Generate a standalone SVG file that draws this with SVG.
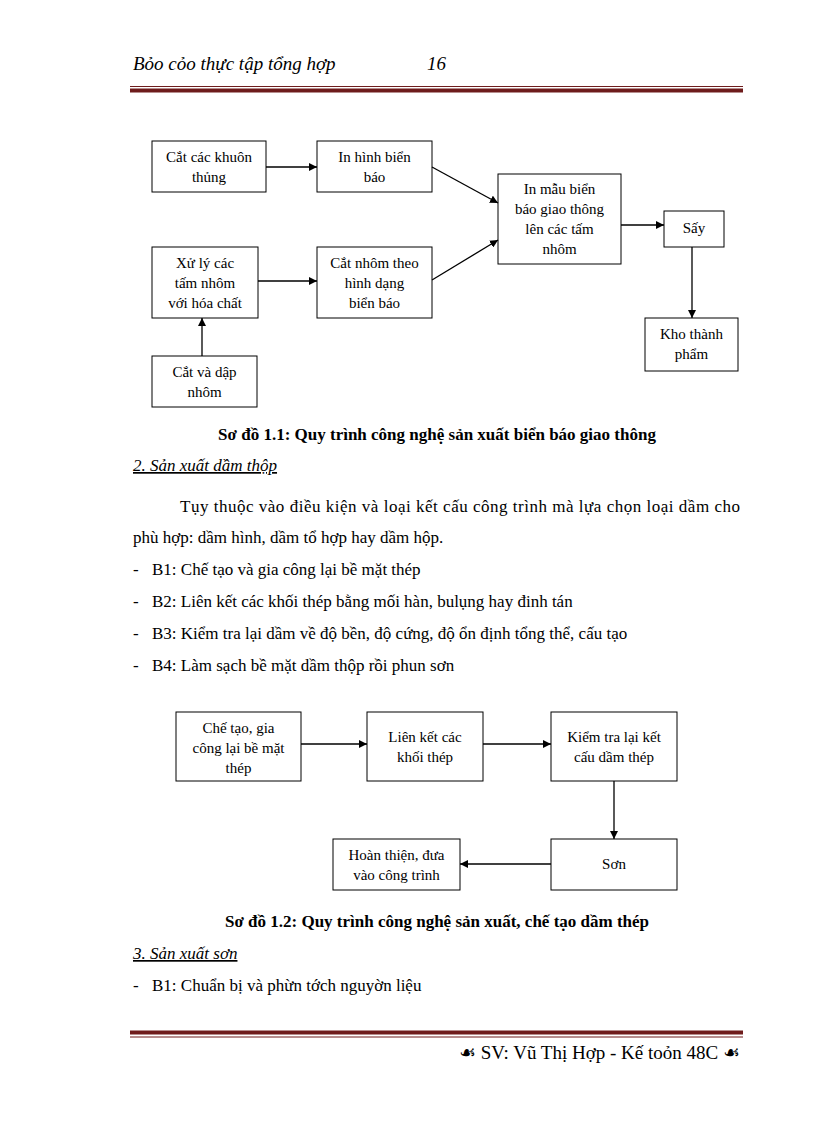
<svg xmlns="http://www.w3.org/2000/svg" width="816" height="1123" viewBox="0 0 816 1123">
<defs>
<marker id="ah" viewBox="0 0 10 10" refX="10" refY="5" markerWidth="8" markerHeight="8" markerUnits="userSpaceOnUse" orient="auto">
<path d="M0,0 L10,5 L0,10 z" fill="#000"/>
</marker>
</defs>
<style>
.box{fill:#fff;stroke:#000;stroke-width:1}
.nt{font-family:"Liberation Serif","Times New Roman",serif;font-size:15px;fill:#000;text-anchor:middle}
.body{font-family:"Liberation Serif","Times New Roman",serif;font-size:17px;fill:#000}
.cap{font-family:"Liberation Serif","Times New Roman",serif;font-size:17px;font-weight:bold;fill:#000;text-anchor:middle}
.hd{font-family:"Liberation Serif","Times New Roman",serif;font-size:17px;font-style:italic;fill:#000;text-decoration:underline}
.hdr{font-family:"Liberation Serif","Times New Roman",serif;font-size:19px;font-style:italic;fill:#000}
.ft{font-family:"Liberation Serif","Times New Roman",serif;font-size:19px;fill:#000}
.orn{font-family:"DejaVu Sans",sans-serif;font-size:19px}
.con{stroke:#000;stroke-width:1.3;fill:none;marker-end:url(#ah)}
.rule{stroke:#6e1c1c}
</style>
<rect width="816" height="1123" fill="#fff"/>

<g id="header">
<text class="hdr" x="133" y="70">Bỏo cỏo thực tập tổng hợp</text>
<text class="hdr" x="427" y="70">16</text>
<line class="rule" x1="130" y1="86.5" x2="743" y2="86.5" stroke-width="1"/>
<line class="rule" x1="130" y1="90.5" x2="743" y2="90.5" stroke-width="4"/>
</g>

<g id="n1"><rect class="box" x="152" y="141" width="114" height="51"/>
<text class="nt" x="209" y="162">Cắt các khuôn</text><text class="nt" x="209" y="182">thủng</text></g>
<g id="n2"><rect class="box" x="317" y="141" width="115" height="51"/>
<text class="nt" x="374.5" y="162">In hình  biển</text><text class="nt" x="374.5" y="182">báo</text></g>
<g id="n3"><rect class="box" x="152" y="247" width="106" height="71"/>
<text class="nt" x="205" y="268">Xử lý các</text><text class="nt" x="205" y="288">tấm nhôm</text><text class="nt" x="205" y="308">với hóa chất</text></g>
<g id="n4"><rect class="box" x="317" y="247" width="115" height="71"/>
<text class="nt" x="374.5" y="268">Cắt nhôm  theo</text><text class="nt" x="374.5" y="288">hình  dạng</text><text class="nt" x="374.5" y="308">biển báo</text></g>
<g id="n5"><rect class="box" x="152" y="356" width="105" height="51"/>
<text class="nt" x="204.5" y="377">Cắt và dập</text><text class="nt" x="204.5" y="397">nhôm</text></g>
<g id="n6"><rect class="box" x="498" y="174" width="123" height="90"/>
<text class="nt" x="559.5" y="194">In mẫu  biển</text><text class="nt" x="559.5" y="214">báo giao thông</text><text class="nt" x="559.5" y="234">lên các tấm</text><text class="nt" x="559.5" y="254">nhôm</text></g>
<g id="n7"><rect class="box" x="664" y="211" width="60" height="36"/>
<text class="nt" x="694" y="233">Sấy</text></g>
<g id="n8"><rect class="box" x="645" y="318" width="93" height="53"/>
<text class="nt" x="691.5" y="339">Kho thành</text><text class="nt" x="691.5" y="359">phẩm</text></g>

<g id="connectors">
<line class="con" x1="266" y1="167" x2="317" y2="167"/>
<line class="con" x1="258" y1="281" x2="317" y2="281" stroke-width="2"/>
<line class="con" x1="202" y1="356" x2="202" y2="318"/>
<line class="con" x1="432" y1="167" x2="498" y2="203"/>
<line class="con" x1="432" y1="280" x2="498" y2="240"/>
<line class="con" x1="621" y1="225" x2="664" y2="225" stroke-width="2"/>
<line class="con" x1="692" y1="247" x2="692" y2="318"/>
<line class="con" x1="301" y1="744" x2="367" y2="744" stroke-width="2"/>
<line class="con" x1="483" y1="744" x2="551" y2="744" stroke-width="2"/>
<line class="con" x1="614" y1="780" x2="614" y2="839"/>
<line class="con" x1="551" y1="864" x2="460" y2="864" stroke-width="2"/>
</g>

<g id="text1">
<text class="cap" x="437" y="440">Sơ đồ 1.1: Quy trình công nghệ sản xuất biển báo giao thông</text>
<text class="hd" x="133" y="471">2. Sản xuất dầm thộp</text>
<text class="body" x="180" y="512" textLength="560" lengthAdjust="spacing">Tụy thuộc vào điều kiện và  loại kết cấu công trình mà lựa chọn loại dầm cho</text>
<text class="body" x="133" y="543">phù hợp: dầm hình, dầm tổ hợp hay dầm hộp.</text>
<text class="body" x="133" y="575">-</text><text class="body" x="152" y="575">B1: Chế tạo và gia công lại bề mặt thép</text>
<text class="body" x="133" y="607">-</text><text class="body" x="152" y="607">B2: Liên kết các khối thép bằng mối hàn, bulụng hay đinh tán</text>
<text class="body" x="133" y="639">-</text><text class="body" x="152" y="639">B3: Kiểm tra lại dầm về độ bền, độ cứng, độ ổn định tổng thể, cấu tạo</text>
<text class="body" x="133" y="671">-</text><text class="body" x="152" y="671">B4: Làm sạch bề mặt dầm thộp rồi phun sơn</text>
</g>

<g id="m1"><rect class="box" x="176" y="712" width="125" height="69"/>
<text class="nt" x="238.5" y="733">Chế tạo, gia</text><text class="nt" x="238.5" y="753">công lại bề mặt</text><text class="nt" x="238.5" y="773">thép</text></g>
<g id="m2"><rect class="box" x="367" y="712" width="116" height="69"/>
<text class="nt" x="425" y="742">Liên  kết các</text><text class="nt" x="425" y="762">khối thép</text></g>
<g id="m3"><rect class="box" x="551" y="712" width="126" height="69"/>
<text class="nt" x="614" y="742">Kiểm  tra lại kết</text><text class="nt" x="614" y="762">cấu  dầm thép</text></g>
<g id="m4"><rect class="box" x="551" y="839" width="126" height="51"/>
<text class="nt" x="614" y="869">Sơn</text></g>
<g id="m5"><rect class="box" x="333" y="839" width="127" height="51"/>
<text class="nt" x="396.5" y="860">Hoàn thiện,  đưa</text><text class="nt" x="396.5" y="880">vào công trình</text></g>

<g id="text2">
<text class="cap" x="437" y="927">Sơ đồ 1.2: Quy trình công nghệ sản xuất, chế tạo dầm thép</text>
<text class="hd" x="133" y="959">3. Sản xuất sơn</text>
<text class="body" x="133" y="991">-</text><text class="body" x="152" y="991">B1: Chuẩn bị và phừn tớch nguyờn  liệu</text>
</g>

<g id="footer">
<line class="rule" x1="130" y1="1032.5" x2="743" y2="1032.5" stroke-width="4"/>
<line class="rule" x1="130" y1="1037" x2="743" y2="1037" stroke-width="1"/>
<text class="ft" x="740" y="1059" text-anchor="end"><tspan class="orn">☙</tspan> SV: Vũ Thị Hợp - Kế toỏn 48C <tspan class="orn">☙</tspan></text>
</g>
</svg>
